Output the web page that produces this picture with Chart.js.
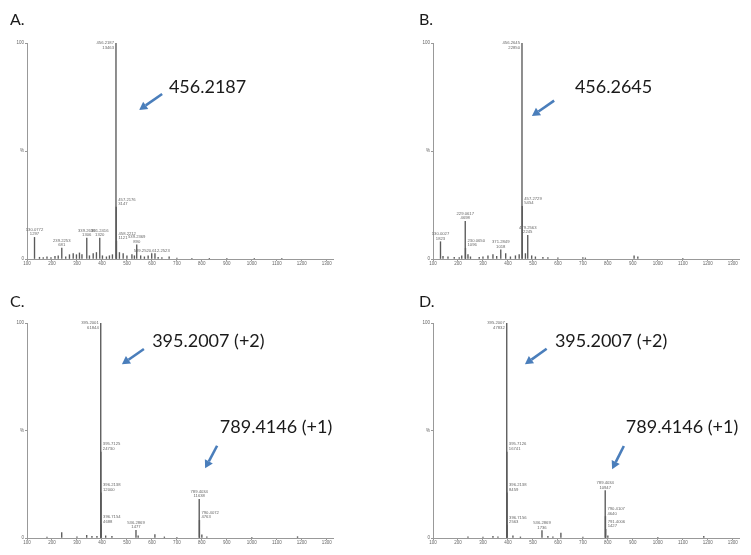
<!DOCTYPE html>
<html><head><meta charset="utf-8">
<script src="https://cdn.jsdelivr.net/npm/chart.js@4.4.1/dist/chart.umd.min.js"></script>
<style>
html,body{margin:0;padding:0;background:#fff;}
body{width:751px;height:555px;position:relative;overflow:hidden;}
canvas{position:absolute;}
</style></head><body>
<canvas id="cA" width="375" height="277" style="left:0;top:0;width:375px;height:277px"></canvas>
<canvas id="cB" width="375" height="277" style="left:376px;top:0;width:375px;height:277px"></canvas>
<canvas id="cC" width="375" height="278" style="left:0;top:277px;width:375px;height:278px"></canvas>
<canvas id="cD" width="375" height="278" style="left:376px;top:277px;width:375px;height:278px"></canvas>
<script>
// ---------- shared axis labels ----------
const X_TICKS = [100,200,300,400,500,600,700,800,900,1000,1100,1200,1300];
const Y_TICKS = [0,50,100];
const Y_TICK_LABELS = ['0','%','100'];

// ---------- Panel A ----------
const A_MZ  = [130.0772, 239.2253, 339.2636, 391.2416, 456.2187, 457.2176, 458.2212, 539.2369, 599.2520, 612.2523];
const A_INT = [10, 5, 9.7, 9.7, 100, 24, 8.3, 6.6, 2.5, 2.5];
const A_TAG = ['130.0772','239.2253','339.2636','391.2416','456.2187','457.2176','458.2212','539.2369','599.2520,612.2523',''];
const A_CNT = ['1297','681','1306','1320','13463','3147','1121','890','',''];
const A_NOISE_MZ  = [150,165,180,196,212,225,255,270,285,298,310,320,350,365,378,402,418,430,442,470,485,500,520,530,555,570,585,625,640,669,700,760,830,900,1010,1120];
const A_NOISE_INT = [0.8,0.6,1,0.7,1.2,1.5,1,2,2.5,2,2.8,2,1.5,2.5,3,1.5,1,1.5,2,3,2.5,1.5,2,1.5,1.5,1,1.5,0.8,0.6,1,0.4,0.3,0.3,0.3,0.3,0.3];

// ---------- Panel B ----------
const B_MZ  = [130.0027, 229.0617, 230.0650, 371.2849, 456.2645, 457.2729, 479.2563];
const B_INT = [8, 17.4, 5, 4.3, 100, 24.4, 11];
const B_TAG = ['130.0027','229.0617','230.0650','371.2849','456.2645','457.2729','479.2563'];
const B_CNT = ['1823','4698','1096','1018','22850','5454','2245'];
const B_NOISE_MZ  = [140,160,185,205,215,240,250,285,300,320,340,355,391,410,430,445,470,495,510,540,560,600,700,710,905,920,1100];
const B_NOISE_INT = [1.2,1,0.8,0.6,1.5,2,1,0.8,1,1.5,2,1.2,2.5,1,1.5,2,2.5,1.5,1,0.8,0.6,0.5,0.6,0.5,1.5,1,0.3];

// ---------- Panel C ----------
const C_MZ  = [395.2001, 395.7125, 396.2138, 396.7154, 536.2869, 789.4034, 790.4072];
const C_INT = [100, 40, 21, 6.2, 3.6, 18, 8.2];
const C_TAG = ['395.2001','395.7125','396.2138','396.7154','536.2869','789.4034','790.4072'];
const C_CNT = ['61844','24730','12000','4688','1477','11638','4763'];
const C_NOISE_MZ  = [180,239,300,339,360,380,415,440,545,612,650,700,800,820,1000,1183];
const C_NOISE_INT = [0.4,2.5,0.5,1.2,0.8,0.8,1,0.8,1,1.6,0.5,0.3,1.5,0.5,0.3,0.6];

// ---------- Panel D ----------
const D_MZ  = [395.2007, 395.7126, 396.2138, 396.7156, 536.2869, 789.4034, 790.4107, 791.4006];
const D_INT = [100, 40, 21, 6, 3.4, 22, 10, 4];
const D_TAG = ['395.2007','395.7126','396.2138','396.7156','536.2869','789.4034','790.4107','791.4006'];
const D_CNT = ['47832','16741','8459','2563','1736','10947','4640','1427'];
const D_NOISE_MZ  = [240,300,340,360,420,450,560,580,612,700,800,1000,1184];
const D_NOISE_INT = [0.5,0.4,0.8,0.6,1,0.5,0.8,0.5,2.3,0.4,1,0.3,0.8];

const W = 375, YW = 20;
const BLUE = '#4a7ebb';

function makePanel(id, H, box, title, P, notes, arrows){
  const data = [];
  P.mz.forEach((m,i)=>data.push({x:m, y:P.int[i]}));
  P.nmz.forEach((m,i)=>data.push({x:m, y:P.nint[i]}));
  data.sort((a,b)=>a.x-b.x);

  const overlay = {
    id:'overlay_'+id,
    afterDatasetsDraw(chart){
      const ctx = chart.ctx, xs = chart.scales.x, ys = chart.scales.y;
      ctx.save();
      ctx.font = '4.2px "Liberation Sans"';
      ctx.fillStyle = '#666';
      const maxI = Math.max(...P.int);
      P.mz.forEach((m,i)=>{
        if(!P.tag[i]) return;
        const px = xs.getPixelForValue(m), py = ys.getPixelForValue(P.int[i]);
        const lines = P.cnt[i] ? [P.tag[i], P.cnt[i]] : [P.tag[i]];
        const lh = 4.6;
        if (P.int[i] === maxI){
          ctx.textAlign = 'right'; ctx.textBaseline = 'top';
          lines.forEach((t,k)=>ctx.fillText(t, px-2, py-2+k*lh));
          return;
        }
        const taller = P.mz.some((m2,j)=> j!==i && P.int[j] > P.int[i] &&
            Math.abs(xs.getPixelForValue(m2)-px) < 3);
        ctx.textBaseline = 'bottom';
        let lx;
        if (taller){ ctx.textAlign='left'; lx = px+2; } else { ctx.textAlign='center'; lx = px; }
        lines.forEach((t,k)=>ctx.fillText(t, lx, py-1-(lines.length-1-k)*lh));
      });
      arrows.forEach(a=>{
        const x1 = xs.getPixelForValue(a.from[0]), y1 = ys.getPixelForValue(a.from[1]);
        const x2 = xs.getPixelForValue(a.to[0]),   y2 = ys.getPixelForValue(a.to[1]);
        const ang = Math.atan2(y2-y1, x2-x1), hl = 8, hw = 4.5;
        const bx = x2 - hl*Math.cos(ang), by = y2 - hl*Math.sin(ang);
        ctx.strokeStyle = BLUE; ctx.fillStyle = BLUE; ctx.lineWidth = 2.6; ctx.lineCap='butt';
        ctx.beginPath(); ctx.moveTo(x1,y1); ctx.lineTo(bx,by); ctx.stroke();
        ctx.beginPath(); ctx.moveTo(x2,y2);
        ctx.lineTo(bx + hw*Math.sin(ang), by - hw*Math.cos(ang));
        ctx.lineTo(bx - hw*Math.sin(ang), by + hw*Math.cos(ang));
        ctx.closePath(); ctx.fill();
      });
      ctx.fillStyle = '#1a1a1a';
      ctx.font = '18px Lato';
      ctx.textAlign = 'left'; ctx.textBaseline = 'alphabetic';
      notes.forEach(n=>ctx.fillText(n.text, xs.getPixelForValue(n.x), ys.getPixelForValue(n.y)));
      ctx.font = '16px Lato';
      ctx.fillText(title.text, title.x, title.y);
      ctx.restore();
    }
  };

  new Chart(document.getElementById(id), {
    type:'bar',
    data:{datasets:[{data, backgroundColor:'#5a5a5a', borderWidth:0, barThickness:0.7, grouped:false}]},
    options:{
      responsive:false, animation:false, devicePixelRatio:1,
      layout:{padding:{left:box.left-YW, right:W-box.right, top:box.top, bottom:0}},
      plugins:{legend:{display:false}, tooltip:{enabled:false}, title:{display:false}},
      scales:{
        x:{type:'linear', min:100, max:1325, offset:false,
           afterBuildTicks:s=>{ s.ticks = X_TICKS.map(v=>({value:v})); },
           afterFit:s=>{ s.height = H-box.bottom; },
           ticks:{font:{size:4.5, family:'Liberation Sans'}, color:'#666', maxRotation:0, autoSkip:false, padding:0,
                  callback:(v)=>String(X_TICKS[X_TICKS.indexOf(v)])},
           grid:{display:true, drawOnChartArea:false, tickLength:2, color:'#999', offset:false},
           border:{display:true, color:'#999', width:1}},
        y:{type:'linear', min:0, max:100,
           afterBuildTicks:s=>{ s.ticks = Y_TICKS.map(v=>({value:v})); },
           afterFit:s=>{ s.width = YW; },
           ticks:{font:{size:4.5, family:'Liberation Sans'}, color:'#666', padding:1,
                  callback:(v)=>Y_TICK_LABELS[Y_TICKS.indexOf(v)]},
           grid:{display:true, drawOnChartArea:false, tickLength:2, color:'#999'},
           border:{display:true, color:'#999', width:1}}
      }
    },
    plugins:[overlay]
  });
}

makePanel('cA', 277, {left:27, right:333, top:43, bottom:259}, {text:'A.', x:10, y:25},
  {mz:A_MZ, int:A_INT, tag:A_TAG, cnt:A_CNT, nmz:A_NOISE_MZ, nint:A_NOISE_INT},
  [{text:'456.2187', x:668, y:76.7}],
  [{from:[641,76.4], to:[549,69]}]);

makePanel('cB', 277, {left:57, right:363, top:43, bottom:259}, {text:'B.', x:43, y:25},
  {mz:B_MZ, int:B_INT, tag:B_TAG, cnt:B_CNT, nmz:B_NOISE_MZ, nint:B_NOISE_INT},
  [{text:'456.2645', x:668, y:76.7}],
  [{from:[585,73.3], to:[496,66.2]}]);

makePanel('cC', 278, {left:27, right:333, top:46, bottom:261}, {text:'C.', x:10, y:30},
  {mz:C_MZ, int:C_INT, tag:C_TAG, cnt:C_CNT, nmz:C_NOISE_MZ, nint:C_NOISE_INT},
  [{text:'395.2007 (+2)', x:601, y:88.7}, {text:'789.4146 (+1)', x:872, y:48.7}],
  [{from:[568,87.9], to:[480,80.8]}, {from:[861,42.9], to:[813,32.4]}]);

makePanel('cD', 278, {left:57, right:363, top:46, bottom:261}, {text:'D.', x:43, y:30},
  {mz:D_MZ, int:D_INT, tag:D_TAG, cnt:D_CNT, nmz:D_NOISE_MZ, nint:D_NOISE_INT},
  [{text:'395.2007 (+2)', x:588, y:88.7}, {text:'789.4146 (+1)', x:872, y:48.7}],
  [{from:[555,88], to:[468,80.8]}, {from:[864,42.8], to:[817,32]}]);
</script>
</body></html>
